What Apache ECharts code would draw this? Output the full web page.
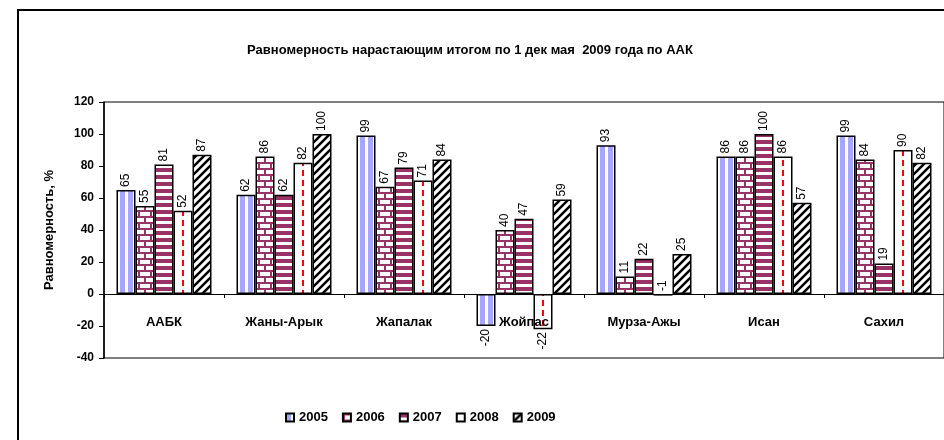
<!DOCTYPE html>
<html>
<head>
<meta charset="utf-8">
<script src="https://cdn.jsdelivr.net/npm/echarts@6/dist/echarts.min.js"></script>
<style>
html, body { margin: 0; padding: 0; background: #fff; }
#main { width: 944px; height: 440px; }
</style>
</head>
<body>
<div id="main"></div>
<script>
// данные
var categories = ['ААБК', 'Жаны-Арык', 'Жапалак', 'Жойпас', 'Мурза-Ажы', 'Исан', 'Сахил'];
var years = ['2005', '2006', '2007', '2008', '2009'];
var v2005 = [65, 62, 99, -20, 93, 86, 99];
var v2006 = [55, 86, 67, 40, 11, 86, 84];
var v2007 = [81, 62, 79, 47, 22, 100, 19];
var v2008 = [52, 82, 71, -22, -1, 86, 90];
var v2009 = [87, 100, 84, 59, 25, 57, 82];

var FONT = 'Arial, "Liberation Sans", sans-serif';

function makePattern(w, h, draw) {
    var c = document.createElement('canvas');
    c.width = w;
    c.height = h;
    var ctx = c.getContext('2d');
    ctx.fillStyle = '#ffffff';
    ctx.fillRect(0, 0, w, h);
    draw(ctx);
    return { image: c, repeat: 'repeat' };
}

// штриховки как в Excel
var fill2005 = makePattern(8, 8, function (ctx) {
    ctx.fillStyle = '#a6a6ff';
    ctx.fillRect(0, 0, 5, 8);
});
var fill2006 = makePattern(12, 12, function (ctx) {
    ctx.fillStyle = '#993366';
    ctx.fillRect(0, 0, 12, 2);
    ctx.fillRect(0, 6, 12, 2);
    ctx.fillRect(0, 0, 2, 6);
    ctx.fillRect(6, 6, 2, 6);
});
var fill2007 = makePattern(4, 7, function (ctx) {
    ctx.fillStyle = '#993366';
    ctx.fillRect(0, 0, 4, 4);
});
var fill2008 = makePattern(120, 10, function (ctx) {
    ctx.fillStyle = '#ff0000';
    ctx.fillRect(62, 0, 2, 6);
});
var fill2009 = makePattern(8, 8, function (ctx) {
    ctx.strokeStyle = '#000000';
    ctx.lineWidth = 2.5;
    ctx.beginPath();
    ctx.moveTo(-4, 4); ctx.lineTo(4, -4);
    ctx.moveTo(0, 8); ctx.lineTo(8, 0);
    ctx.moveTo(4, 12); ctx.lineTo(12, 4);
    ctx.stroke();
});

function buildData(values) {
    return values.map(function (v) {
        if (v < -5) {
            return { value: v, label: { align: 'right' } };
        }
        if (v < 0) {
            return { value: v, label: { position: 'top' } };
        }
        return v;
    });
}

function makeSeries(name, values, fill) {
    return {
        name: name,
        type: 'bar',
        barWidth: 19,
        barGap: '0%',
        data: buildData(values),
        itemStyle: {
            color: fill,
            borderColor: '#000',
            borderWidth: 1.5
        },
        label: {
            show: true,
            position: 'outside',
            rotate: 90,
            align: 'left',
            verticalAlign: 'middle',
            distance: 3,
            color: '#000',
            fontSize: 12,
            fontFamily: FONT
        },
        emphasis: { disabled: true }
    };
}

var myChart = echarts.init(document.getElementById('main'));
var option = {
    animation: false,
    backgroundColor: '#fff',
    title: {
        text: 'Равномерность нарастающим итогом по 1 дек мая  2009 года по ААК',
        left: 465,
        textAlign: 'center',
        top: 39,
        textStyle: {
            fontSize: 13,
            fontWeight: 'bold',
            fontFamily: FONT,
            color: '#000'
        }
    },
    legend: {
        data: years,
        left: 280,
        top: 406,
        itemWidth: 8,
        itemHeight: 8,
        itemGap: 14,
        icon: 'rect',
        textStyle: {
            fontSize: 13,
            fontWeight: 'bold',
            fontFamily: FONT,
            color: '#000'
        }
    },
    graphic: [{
        type: 'rect',
        shape: { x: 18, y: 10, width: 1000, height: 1000 },
        style: { fill: 'none', stroke: '#000', lineWidth: 2 },
        silent: true
    }],
    grid: {
        left: 104,
        right: -1,
        top: 102,
        height: 256,
        show: true,
        borderColor: '#000',
        borderWidth: 1,
        containLabel: false
    },
    xAxis: {
        type: 'category',
        data: categories,
        z: 10,
        axisLine: { onZero: true, lineStyle: { color: '#000', width: 1 } },
        axisTick: { show: true, length: 4, lineStyle: { color: '#000' } },
        axisLabel: {
            margin: -42,
            fontSize: 13,
            fontWeight: 'bold',
            fontFamily: FONT,
            color: '#000'
        }
    },
    yAxis: {
        type: 'value',
        min: -40,
        max: 120,
        interval: 20,
        name: 'Равномерность, %',
        nameLocation: 'middle',
        nameGap: 48,
        nameTextStyle: {
            fontSize: 13,
            fontWeight: 'bold',
            fontFamily: FONT,
            color: '#000'
        },
        axisLine: { show: true, lineStyle: { color: '#000', width: 1.5 } },
        axisTick: { show: true, length: 5, lineStyle: { color: '#000' } },
        splitLine: { show: false },
        axisLabel: {
            margin: 10,
            fontSize: 12,
            fontWeight: 'bold',
            fontFamily: FONT,
            color: '#000'
        }
    },
    series: [
        makeSeries('2005', v2005, fill2005),
        makeSeries('2006', v2006, fill2006),
        makeSeries('2007', v2007, fill2007),
        makeSeries('2008', v2008, fill2008),
        makeSeries('2009', v2009, fill2009)
    ]
};
myChart.setOption(option);
</script>
</body>
</html>
